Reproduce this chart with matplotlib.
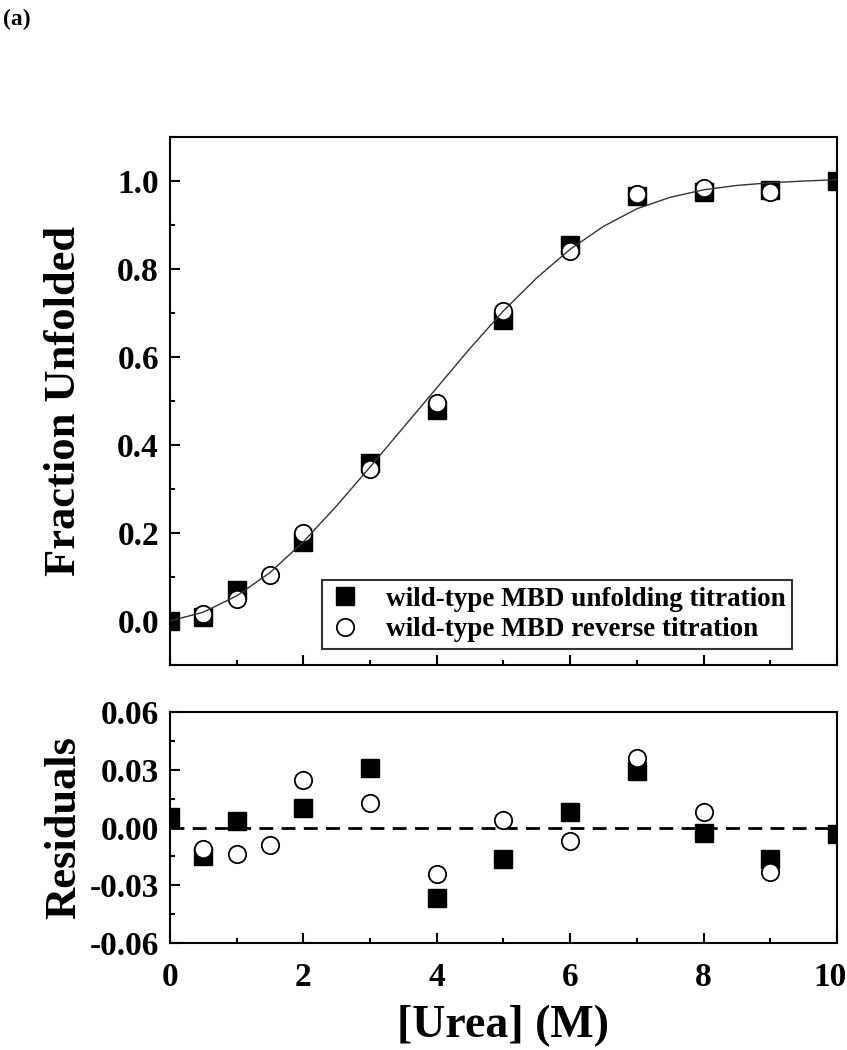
import matplotlib
matplotlib.use('Agg')
import matplotlib.pyplot as plt
from matplotlib.ticker import MultipleLocator

plt.rcParams['font.family'] = ['Liberation Serif', 'DejaVu Serif']
plt.rcParams['font.weight'] = 'bold'

# %% data
urea_unfold = [0, 0.5, 1, 2, 3, 4, 5, 6, 7, 8, 9, 10]
frac_unfold = [0.0, 0.01, 0.07, 0.18, 0.36, 0.48, 0.685, 0.855, 0.965, 0.975, 0.98, 1.0]
resid_unfold = [0.0055, -0.0147, 0.0035, 0.010, 0.0307, -0.0364, -0.0165, 0.0078, 0.0295, -0.003, -0.0165, -0.0036]

urea_reverse = [0.5, 1, 1.5, 2, 3, 4, 5, 6, 7, 8, 9]
frac_reverse = [0.015, 0.05, 0.105, 0.2, 0.345, 0.495, 0.705, 0.84, 0.97, 0.985, 0.975]
resid_reverse = [-0.011, -0.014, -0.009, 0.0248, 0.0125, -0.0243, 0.0038, -0.0069, 0.036, 0.0078, -0.023]

urea_fit = [0, 0.5, 1, 1.5, 2, 2.5, 3, 3.5, 4, 4.5, 5, 5.5, 6, 6.5, 7, 7.5, 8, 8.5, 9, 9.5, 10]
frac_fit = [0.0, 0.02, 0.057, 0.11, 0.18, 0.262, 0.35, 0.44, 0.53, 0.62, 0.705, 0.78, 0.845,
            0.897, 0.937, 0.963, 0.98, 0.99, 0.996, 1.0, 1.003]

x_ticks = [0, 2, 4, 6, 8, 10]
x_ticklabels = ['0', '2', '4', '6', '8', '10']
res_ticks = [-0.06, -0.03, 0.0, 0.03, 0.06]
res_ticklabels = ['-0.06', '-0.03', '0.00', '0.03', '0.06']

# %% figure
fig = plt.figure(figsize=(8.47, 10.5), dpi=100)
ax1 = fig.add_axes([0.2007, 0.3667, 0.7875, 0.5028])
ax2 = fig.add_axes([0.2007, 0.1019, 0.7875, 0.22])

sq = dict(marker='s', ls='none', color='black', markersize=13, zorder=3)
ci = dict(marker='o', ls='none', markerfacecolor='white', markeredgecolor='black',
          markersize=12.5, markeredgewidth=1.3, zorder=4)

ax1.plot(urea_unfold, frac_unfold, label='wild-type MBD unfolding titration', **sq)
ax1.plot(urea_reverse, frac_reverse, label='wild-type MBD reverse titration', **ci)
ax1.plot(urea_fit, frac_fit, color='#333333', lw=1.0, zorder=5)
ax1.set_xlim(0, 10)
ax1.set_ylim(-0.1, 1.1)
ax1.yaxis.set_major_locator(MultipleLocator(0.2))
ax1.yaxis.set_minor_locator(MultipleLocator(0.1))
ax1.set_xticks(x_ticks)
ax1.xaxis.set_minor_locator(MultipleLocator(1))
ax1.tick_params(labelbottom=False)
ax1.set_ylabel('Fraction Unfolded', fontsize=32, fontweight='bold', labelpad=24)
leg = ax1.legend(loc='lower right', bbox_to_anchor=(0.9325, 0.03), borderaxespad=0,
                 fontsize=19.5, frameon=True, fancybox=False, edgecolor='black',
                 handletextpad=0.9, borderpad=0.25, labelspacing=0.2, handlelength=1.2)
leg.get_frame().set_linewidth(1.5)

ax2.plot(urea_unfold, resid_unfold, **sq)
ax2.plot(urea_reverse, resid_reverse, **ci)
ax2.axhline(0, color='black', ls=(0, (5, 3)), lw=2)
ax2.set_xlim(0, 10)
ax2.set_ylim(-0.06, 0.06)
ax2.set_yticks(res_ticks)
ax2.set_yticklabels(res_ticklabels)
ax2.yaxis.set_minor_locator(MultipleLocator(0.015))
ax2.set_xticks(x_ticks)
# last label "10" would run off the right edge: leave it blank and place it by hand below
ax2.set_xticklabels(x_ticklabels[:-1] + [''])
ax2.xaxis.set_minor_locator(MultipleLocator(1))
ax2.set_ylabel('Residuals', fontsize=32, fontweight='bold', labelpad=4)
ax2.set_xlabel('[Urea] (M)', fontsize=33, fontweight='bold', labelpad=8)

for ax in (ax1, ax2):
    for s in ax.spines.values():
        s.set_linewidth(1.5)
    ax.tick_params(which='both', direction='in', width=1.5, labelsize=24)
    ax.tick_params(which='major', length=7)
    ax.tick_params(which='minor', length=3.5)
    ax.tick_params(axis='y', pad=8)
    for t in ax.get_xticklabels() + ax.get_yticklabels():
        t.set_fontweight('bold')
ax2.tick_params(axis='x', pad=14)

ax2.annotate(x_ticklabels[-1], xy=(x_ticks[-1], 0), xycoords=('data', 'axes fraction'),
             xytext=(-5, -14), textcoords='offset points', ha='center', va='top',
             fontsize=24, fontweight='bold')

fig.text(0.003, 0.992, '(a)', fontsize=17, fontweight='bold', va='top', ha='left')

plt.savefig('out.png', dpi=100)
